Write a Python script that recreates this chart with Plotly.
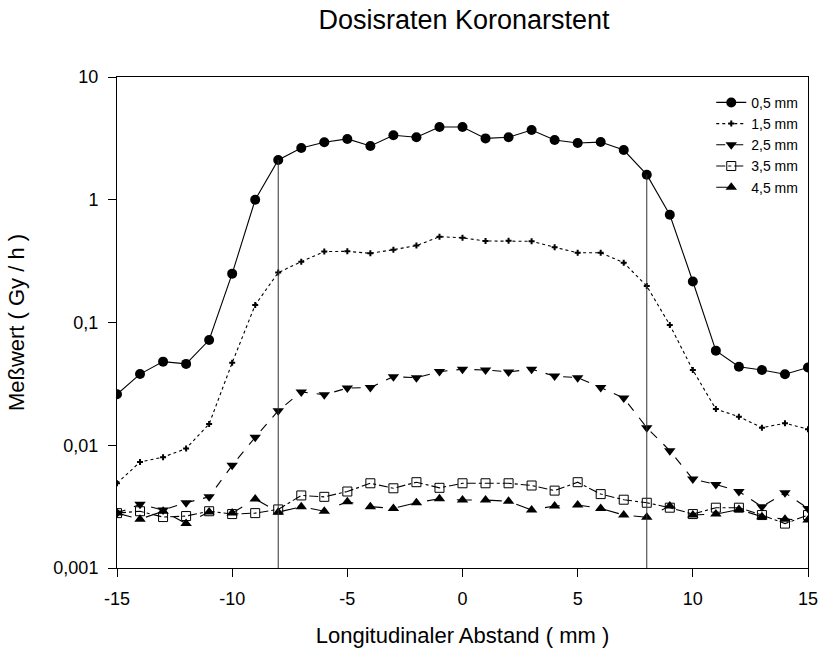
import plotly.graph_objects as go

x_mm = list(range(-15, 16))

d05 = [0.026, 0.038, 0.048, 0.046, 0.072, 0.25, 1.0, 2.11, 2.64, 2.94, 3.13, 2.74, 3.35, 3.23, 3.91, 3.91,
       3.16, 3.23, 3.70, 3.07, 2.90, 2.95, 2.54, 1.60, 0.755, 0.216, 0.059, 0.0436, 0.041, 0.0379, 0.0430]
d15 = [0.0049, 0.0073, 0.0080, 0.0094, 0.0149, 0.047, 0.139, 0.255, 0.313, 0.378, 0.380, 0.366, 0.392, 0.423, 0.50, 0.49,
       0.461, 0.463, 0.459, 0.41, 0.37, 0.37, 0.307, 0.198, 0.0955, 0.041, 0.0197, 0.0171, 0.0139, 0.0151, 0.0135]
d25 = [0.0028, 0.0033, 0.00297, 0.0034, 0.0038, 0.00686, 0.0116, 0.0191, 0.0272, 0.0258, 0.0292, 0.0296, 0.0362, 0.0355, 0.0398, 0.0416,
       0.041, 0.0396, 0.0416, 0.0366, 0.0355, 0.0296, 0.0243, 0.0139, 0.00904, 0.0053, 0.0048, 0.0042, 0.00316, 0.0041, 0.00306]
d35 = [0.0028, 0.0029, 0.0026, 0.00265, 0.0029, 0.00275, 0.0028, 0.0030, 0.0039, 0.0038, 0.0042, 0.0049, 0.00446, 0.0050, 0.0045, 0.0049,
       0.0049, 0.0049, 0.0047, 0.00427, 0.0050, 0.0040, 0.0036, 0.0034, 0.0031, 0.00275, 0.0031, 0.0031, 0.0027, 0.0023, 0.0027]
d45 = [0.0028, 0.0025, 0.0029, 0.0023, 0.00286, 0.0028, 0.00365, 0.00285, 0.00316, 0.0029, 0.00347, 0.00316, 0.00306, 0.0034, 0.00367, 0.00358,
       0.00358, 0.0035, 0.00297, 0.0032, 0.00326, 0.00306, 0.0027, 0.00259, 0.0032, 0.0027, 0.00275, 0.0030, 0.00262, 0.0025, 0.00246]

series_names = ["0,5 mm", "1,5 mm", "2,5 mm", "3,5 mm", "4,5 mm"]
stent_edges = [-8, 8]
y_tickvals = [0.001, 0.01, 0.1, 1, 10]
y_ticktext = ["0,001", "0,01", "0,1", "1", "10"]
x_tickvals = [-15, -10, -5, 0, 5, 10, 15]
x_ticktext = ["-15", "-10", "-5", "0", "5", "10", "15"]

FONT = "Liberation Sans, Arial, sans-serif"

fig = go.Figure()

LW = 1.1
styles = [
    dict(line=dict(color="black", width=LW, dash="solid"),
         marker=dict(symbol="circle", size=10, color="black")),
    dict(line=dict(color="black", width=LW, dash="dot"),
         marker=dict(symbol="cross", size=5, color="black", line=dict(width=0))),
    dict(line=dict(color="black", width=LW, dash="dash"),
         marker=dict(symbol="triangle-down", size=10, color="black")),
    dict(line=dict(color="black", width=LW, dash="dashdot"),
         marker=dict(symbol="square-open", size=9, color="black", line=dict(width=1))),
    dict(line=dict(color="black", width=LW, dash="longdash"),
         marker=dict(symbol="triangle-up", size=10, color="black")),
]

for name, ys, st in zip(series_names, [d05, d15, d25, d35, d45], styles):
    fig.add_trace(go.Scatter(x=x_mm, y=ys, mode="lines+markers", name=name, **st))

# drop lines at the stent edges, from the 0.5 mm curve down to the axis bottom
for xe in stent_edges:
    yv = d05[x_mm.index(xe)]
    fig.add_trace(go.Scatter(x=[xe, xe], y=[y_tickvals[0], yv], mode="lines",
                             line=dict(color="#333333", width=1), showlegend=False,
                             hoverinfo="skip"))

fig.update_layout(
    width=829, height=655,
    margin=dict(l=117, r=11, t=77, b=87),
    paper_bgcolor="white", plot_bgcolor="white",
    font=dict(family=FONT, color="black", size=18),
    title=dict(text="Dosisraten Koronarstent", x=0.5597, xanchor="center",
               y=0.9695, yanchor="middle", font=dict(size=27, family=FONT)),
    showlegend=True,
    legend=dict(x=0.860, y=0.98, xanchor="left", yanchor="top",
                font=dict(size=14, family=FONT), bgcolor="rgba(0,0,0,0)",
                itemwidth=30, tracegroupgap=0),
)

fig.update_xaxes(
    range=[-15, 15], tickvals=x_tickvals, ticktext=x_ticktext, ticks="outside", ticklen=8,
    tickcolor="black", showline=True, linecolor="black", linewidth=1, mirror=True,
    showgrid=False, zeroline=False, tickfont=dict(size=18), ticklabelstandoff=6,
    title=dict(text="Longitudinaler Abstand ( mm )", font=dict(size=22), standoff=20),
)
fig.update_yaxes(
    type="log", range=[-3, 1], tickvals=y_tickvals, ticktext=y_ticktext,
    ticks="outside", ticklen=8, tickcolor="black", showline=True, linecolor="black",
    linewidth=1, mirror=True, showgrid=False, zeroline=False, tickfont=dict(size=18),
    ticklabelstandoff=6,
    title=dict(text="Meßwert ( Gy / h )", font=dict(size=22), standoff=22),
)

fig.write_html("out.html")
